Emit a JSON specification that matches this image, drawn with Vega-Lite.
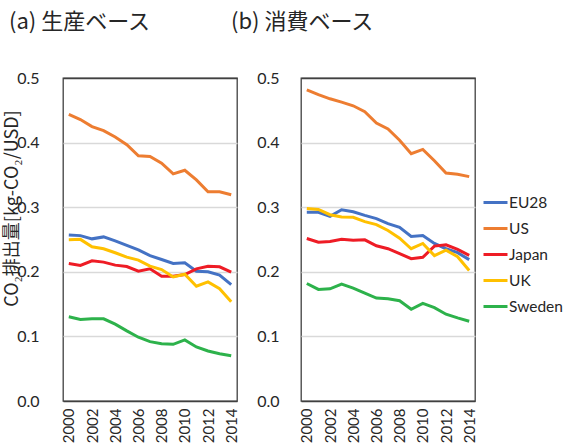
{
  "$schema": "https://vega.github.io/schema/vega-lite/v6.json",
  "padding": {"left": 2, "top": 10, "right": 0, "bottom": 0},
  "config": {
    "font": "Lato",
    "view": {"stroke": "#404040", "strokeWidth": 1.3},
    "axis": {"labelFont": "Lato", "labelFontSize": 16, "labelColor": "#262626", "ticks": false, "domain": false, "gridColor": "#D9D9D9", "gridWidth": 1.5},
    "title": {"font": "Noto Sans CJK JP", "fontSize": 22, "fontWeight": "normal", "anchor": "start", "color": "#262626", "frame": "group"}
  },
  "datasets": {
    "a": [
      {"year": 2000, "country": "EU28", "v": 0.257}, {"year": 2001, "country": "EU28", "v": 0.256}, {"year": 2002, "country": "EU28", "v": 0.251}, {"year": 2003, "country": "EU28", "v": 0.254}, {"year": 2004, "country": "EU28", "v": 0.248}, {"year": 2005, "country": "EU28", "v": 0.241}, {"year": 2006, "country": "EU28", "v": 0.234}, {"year": 2007, "country": "EU28", "v": 0.225}, {"year": 2008, "country": "EU28", "v": 0.219}, {"year": 2009, "country": "EU28", "v": 0.213}, {"year": 2010, "country": "EU28", "v": 0.214}, {"year": 2011, "country": "EU28", "v": 0.201}, {"year": 2012, "country": "EU28", "v": 0.200}, {"year": 2013, "country": "EU28", "v": 0.195}, {"year": 2014, "country": "EU28", "v": 0.180},
      {"year": 2000, "country": "US", "v": 0.4435}, {"year": 2001, "country": "US", "v": 0.4357}, {"year": 2002, "country": "US", "v": 0.4248}, {"year": 2003, "country": "US", "v": 0.4185}, {"year": 2004, "country": "US", "v": 0.4086}, {"year": 2005, "country": "US", "v": 0.3967}, {"year": 2006, "country": "US", "v": 0.3796}, {"year": 2007, "country": "US", "v": 0.3785}, {"year": 2008, "country": "US", "v": 0.3681}, {"year": 2009, "country": "US", "v": 0.3515}, {"year": 2010, "country": "US", "v": 0.3572}, {"year": 2011, "country": "US", "v": 0.3422}, {"year": 2012, "country": "US", "v": 0.3240}, {"year": 2013, "country": "US", "v": 0.3240}, {"year": 2014, "country": "US", "v": 0.3193},
      {"year": 2000, "country": "Japan", "v": 0.2129}, {"year": 2001, "country": "Japan", "v": 0.2098}, {"year": 2002, "country": "Japan", "v": 0.2170}, {"year": 2003, "country": "Japan", "v": 0.2150}, {"year": 2004, "country": "Japan", "v": 0.2103}, {"year": 2005, "country": "Japan", "v": 0.2082}, {"year": 2006, "country": "Japan", "v": 0.2009}, {"year": 2007, "country": "Japan", "v": 0.2046}, {"year": 2008, "country": "Japan", "v": 0.1931}, {"year": 2009, "country": "Japan", "v": 0.1931}, {"year": 2010, "country": "Japan", "v": 0.1957}, {"year": 2011, "country": "Japan", "v": 0.2046}, {"year": 2012, "country": "Japan", "v": 0.2087}, {"year": 2013, "country": "Japan", "v": 0.2077}, {"year": 2014, "country": "Japan", "v": 0.1994},
      {"year": 2000, "country": "UK", "v": 0.2497}, {"year": 2001, "country": "UK", "v": 0.2502}, {"year": 2002, "country": "UK", "v": 0.2388}, {"year": 2003, "country": "UK", "v": 0.2357}, {"year": 2004, "country": "UK", "v": 0.2295}, {"year": 2005, "country": "UK", "v": 0.2227}, {"year": 2006, "country": "UK", "v": 0.2181}, {"year": 2007, "country": "UK", "v": 0.2087}, {"year": 2008, "country": "UK", "v": 0.2035}, {"year": 2009, "country": "UK", "v": 0.1921}, {"year": 2010, "country": "UK", "v": 0.1963}, {"year": 2011, "country": "UK", "v": 0.1776}, {"year": 2012, "country": "UK", "v": 0.1843}, {"year": 2013, "country": "UK", "v": 0.1739}, {"year": 2014, "country": "UK", "v": 0.1537},
      {"year": 2000, "country": "Sweden", "v": 0.1303}, {"year": 2001, "country": "Sweden", "v": 0.1262}, {"year": 2002, "country": "Sweden", "v": 0.1272}, {"year": 2003, "country": "Sweden", "v": 0.1272}, {"year": 2004, "country": "Sweden", "v": 0.1189}, {"year": 2005, "country": "Sweden", "v": 0.1085}, {"year": 2006, "country": "Sweden", "v": 0.0987}, {"year": 2007, "country": "Sweden", "v": 0.0919}, {"year": 2008, "country": "Sweden", "v": 0.0888}, {"year": 2009, "country": "Sweden", "v": 0.0877}, {"year": 2010, "country": "Sweden", "v": 0.0945}, {"year": 2011, "country": "Sweden", "v": 0.0836}, {"year": 2012, "country": "Sweden", "v": 0.0774}, {"year": 2013, "country": "Sweden", "v": 0.0732}, {"year": 2014, "country": "Sweden", "v": 0.0701}
    ],
    "b": [
      {"year": 2000, "country": "EU28", "v": 0.2920}, {"year": 2001, "country": "EU28", "v": 0.2920}, {"year": 2002, "country": "EU28", "v": 0.2859}, {"year": 2003, "country": "EU28", "v": 0.2961}, {"year": 2004, "country": "EU28", "v": 0.2930}, {"year": 2005, "country": "EU28", "v": 0.2874}, {"year": 2006, "country": "EU28", "v": 0.2823}, {"year": 2007, "country": "EU28", "v": 0.2746}, {"year": 2008, "country": "EU28", "v": 0.2690}, {"year": 2009, "country": "EU28", "v": 0.2547}, {"year": 2010, "country": "EU28", "v": 0.2562}, {"year": 2011, "country": "EU28", "v": 0.2439}, {"year": 2012, "country": "EU28", "v": 0.2357}, {"year": 2013, "country": "EU28", "v": 0.2296}, {"year": 2014, "country": "EU28", "v": 0.2188},
      {"year": 2000, "country": "US", "v": 0.4816}, {"year": 2001, "country": "US", "v": 0.4744}, {"year": 2002, "country": "US", "v": 0.4678}, {"year": 2003, "country": "US", "v": 0.4626}, {"year": 2004, "country": "US", "v": 0.4570}, {"year": 2005, "country": "US", "v": 0.4478}, {"year": 2006, "country": "US", "v": 0.4303}, {"year": 2007, "country": "US", "v": 0.4211}, {"year": 2008, "country": "US", "v": 0.4037}, {"year": 2009, "country": "US", "v": 0.3827}, {"year": 2010, "country": "US", "v": 0.3894}, {"year": 2011, "country": "US", "v": 0.3719}, {"year": 2012, "country": "US", "v": 0.3530}, {"year": 2013, "country": "US", "v": 0.3510}, {"year": 2014, "country": "US", "v": 0.3473},
      {"year": 2000, "country": "Japan", "v": 0.2516}, {"year": 2001, "country": "Japan", "v": 0.2459}, {"year": 2002, "country": "Japan", "v": 0.2470}, {"year": 2003, "country": "Japan", "v": 0.2505}, {"year": 2004, "country": "Japan", "v": 0.2490}, {"year": 2005, "country": "Japan", "v": 0.2495}, {"year": 2006, "country": "Japan", "v": 0.2403}, {"year": 2007, "country": "Japan", "v": 0.2357}, {"year": 2008, "country": "Japan", "v": 0.2280}, {"year": 2009, "country": "Japan", "v": 0.2204}, {"year": 2010, "country": "Japan", "v": 0.2224}, {"year": 2011, "country": "Japan", "v": 0.2398}, {"year": 2012, "country": "Japan", "v": 0.2419}, {"year": 2013, "country": "Japan", "v": 0.2347}, {"year": 2014, "country": "Japan", "v": 0.2254},
      {"year": 2000, "country": "UK", "v": 0.2981}, {"year": 2001, "country": "UK", "v": 0.2966}, {"year": 2002, "country": "UK", "v": 0.2884}, {"year": 2003, "country": "UK", "v": 0.2849}, {"year": 2004, "country": "UK", "v": 0.2843}, {"year": 2005, "country": "UK", "v": 0.2777}, {"year": 2006, "country": "UK", "v": 0.2731}, {"year": 2007, "country": "UK", "v": 0.2639}, {"year": 2008, "country": "UK", "v": 0.2520}, {"year": 2009, "country": "UK", "v": 0.2357}, {"year": 2010, "country": "UK", "v": 0.2439}, {"year": 2011, "country": "UK", "v": 0.2250}, {"year": 2012, "country": "UK", "v": 0.2336}, {"year": 2013, "country": "UK", "v": 0.2234}, {"year": 2014, "country": "UK", "v": 0.2019},
      {"year": 2000, "country": "Sweden", "v": 0.1819}, {"year": 2001, "country": "Sweden", "v": 0.1727}, {"year": 2002, "country": "Sweden", "v": 0.1737}, {"year": 2003, "country": "Sweden", "v": 0.1809}, {"year": 2004, "country": "Sweden", "v": 0.1748}, {"year": 2005, "country": "Sweden", "v": 0.1671}, {"year": 2006, "country": "Sweden", "v": 0.1594}, {"year": 2007, "country": "Sweden", "v": 0.1583}, {"year": 2008, "country": "Sweden", "v": 0.1553}, {"year": 2009, "country": "Sweden", "v": 0.1420}, {"year": 2010, "country": "Sweden", "v": 0.1512}, {"year": 2011, "country": "Sweden", "v": 0.1445}, {"year": 2012, "country": "Sweden", "v": 0.1343}, {"year": 2013, "country": "Sweden", "v": 0.1286}, {"year": 2014, "country": "Sweden", "v": 0.1235}
    ]
  },
  "bounds": "flush",
  "spacing": 64,
  "resolve": {"legend": {"color": "independent"}},
  "hconcat": [
    {
      "width": 174,
      "height": 323,
      "title": {"text": "(a) 生産ベース", "dx": -54, "offset": 36},
      "data": {"name": "a"},
      "mark": {"type": "line", "strokeWidth": 3},
      "encoding": {
        "x": {"field": "year", "type": "quantitative", "scale": {"domain": [1999.5, 2014.5], "nice": false, "zero": false},
              "axis": {"values": [2000, 2002, 2004, 2006, 2008, 2010, 2012, 2014], "format": "d", "labelAngle": -90, "labelAlign": "right", "labelBaseline": "middle", "labelFontSize": 15, "labelOverlap": false, "grid": false, "title": null, "labelPadding": 7, "labelFlush": false}},
        "y": {"field": "v", "type": "quantitative", "scale": {"domain": [0, 0.5], "nice": false},
              "axis": {"values": [0, 0.1, 0.2, 0.3, 0.4, 0.5], "format": ".1f", "gridColor": {"condition": {"test": "datum.value === 0 || datum.value === 0.5", "value": "#404040"}, "value": "#D9D9D9"}, "title": "CO₂排出量[kg-CO₂/USD]", "titleFont": "Noto Sans CJK JP", "titleFontSize": 18, "titleFontWeight": "normal", "titleColor": "#262626", "labelPadding": 24, "titlePadding": 0, "titleY": 130, "titleX": -42}},
        "color": {"field": "country", "type": "nominal", "scale": {"domain": ["EU28", "US", "Japan", "UK", "Sweden"], "range": ["#4472C4", "#ED7D31", "#EE1C25", "#FFC000", "#2DB24B"]}, "legend": null}
      }
    },
    {
      "width": 174,
      "height": 323,
      "title": {"text": "(b) 消費ベース", "dx": -70, "offset": 36},
      "data": {"name": "b"},
      "mark": {"type": "line", "strokeWidth": 3},
      "encoding": {
        "x": {"field": "year", "type": "quantitative", "scale": {"domain": [1999.5, 2014.5], "nice": false, "zero": false},
              "axis": {"values": [2000, 2002, 2004, 2006, 2008, 2010, 2012, 2014], "format": "d", "labelAngle": -90, "labelAlign": "right", "labelBaseline": "middle", "labelFontSize": 15, "labelOverlap": false, "grid": false, "title": null, "labelPadding": 7, "labelFlush": false}},
        "y": {"field": "v", "type": "quantitative", "scale": {"domain": [0, 0.5], "nice": false},
              "axis": {"values": [0, 0.1, 0.2, 0.3, 0.4, 0.5], "format": ".1f", "gridColor": {"condition": {"test": "datum.value === 0 || datum.value === 0.5", "value": "#404040"}, "value": "#D9D9D9"}, "title": null, "labelPadding": 22}},
        "color": {"field": "country", "type": "nominal", "scale": {"domain": ["EU28", "US", "Japan", "UK", "Sweden"], "range": ["#4472C4", "#ED7D31", "#EE1C25", "#FFC000", "#2DB24B"]},
                  "legend": {"orient": "none", "legendX": 181, "legendY": 111, "title": null, "symbolType": "stroke", "symbolSize": 576, "symbolStrokeWidth": 3, "labelFont": "Lato", "labelFontSize": 15.5, "labelColor": "#262626", "rowPadding": 4, "padding": 0, "labelOffset": 0}}
      }
    }
  ]
}
